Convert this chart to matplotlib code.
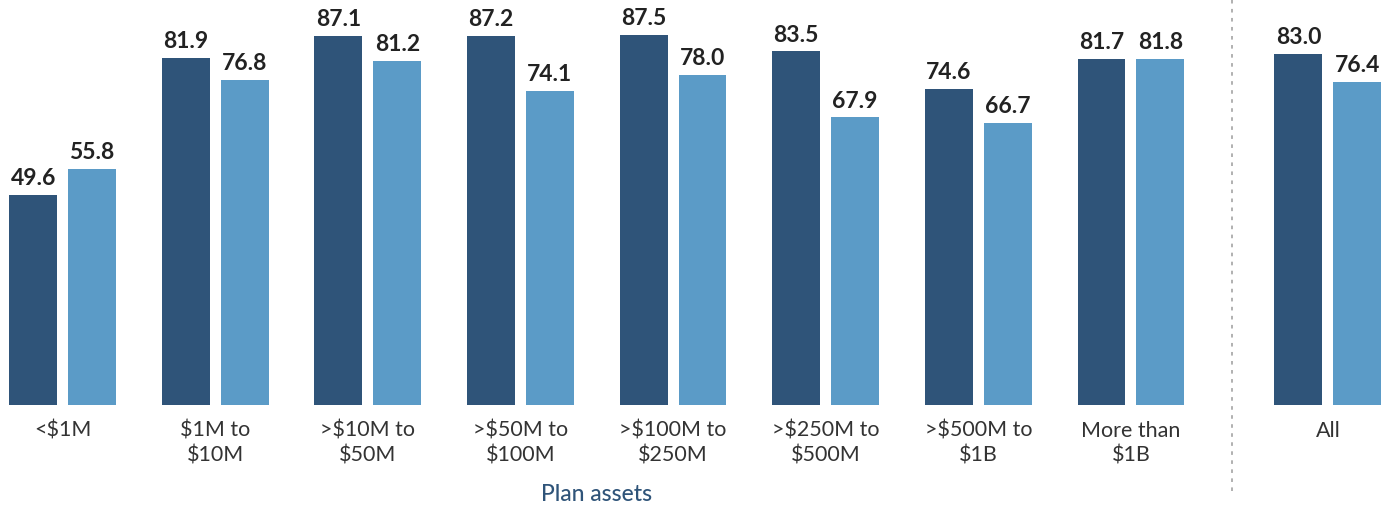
import matplotlib.pyplot as plt

plt.rcParams['font.family'] = ['Lato', 'DejaVu Sans']

categories = ['<$1M', '$1M to\n$10M', '>$10M to\n$50M', '>$50M to\n$100M', '>$100M to\n$250M',
              '>$250M to\n$500M', '>$500M to\n$1B', 'More than\n$1B', 'All']
series_a = [49.6, 81.9, 87.1, 87.2, 87.5, 83.5, 74.6, 81.7, 83.0]
series_b = [55.8, 76.8, 81.2, 74.1, 78.0, 67.9, 66.7, 81.8, 76.4]
group_title = 'Plan assets'

dark = '#2f5479'
light = '#5b9bc7'

x = list(range(8)) + [8.29]
w = 0.314
off = 0.193

fig = plt.figure(figsize=(13.95, 5.06), dpi=100)
ax = fig.add_axes([0, 0, 1, 1])
ax.set_xlim(-0.41, 8.73)
ax.set_ylim(-23.7, 95.9)
ax.axis('off')

xa = [v - off for v in x]
xb = [v + off for v in x]
ax.bar(xa, series_a, width=w, color=dark)
ax.bar(xb, series_b, width=w, color=light)

for xs, vals in [(xa, series_a), (xb, series_b)]:
    for xi, v in zip(xs, vals):
        ax.annotate(f'{v:.1f}', (xi, v), xytext=(0, 5), textcoords='offset points',
                    ha='center', va='bottom', fontsize=16.5, fontweight='bold', color='#222222')

for xi, lab in zip(x, categories):
    ax.text(xi, -3.6, lab, ha='center', va='top', fontsize=15.5, color='#333333',
            linespacing=1.3)

ax.text(3.5, -21.0, group_title, ha='center', va='center', fontsize=16.5,
        color='#2f5479', fontweight='medium')

ax.plot([7.66, 7.66], [-20.4, 95.9], color='#aaaaaa', lw=1.3, ls=(0, (2, 3)))

fig.savefig('out.png', dpi=100)
